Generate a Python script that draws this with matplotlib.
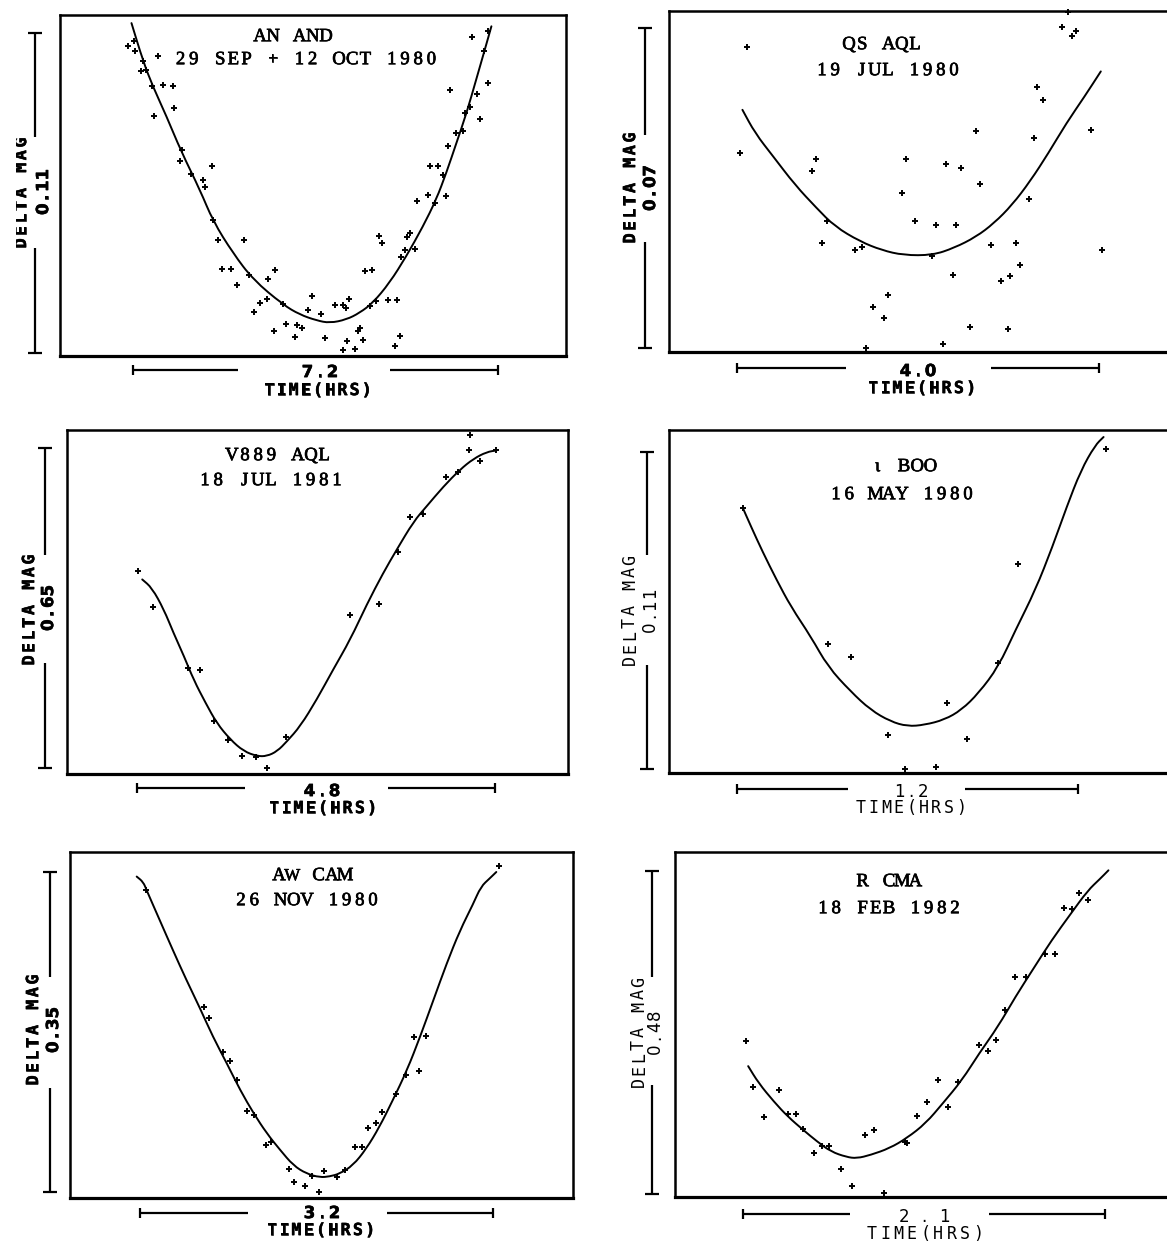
import matplotlib
matplotlib.use('Agg')
import matplotlib.pyplot as plt
import matplotlib.patheffects as pe
from matplotlib.lines import Line2D
from matplotlib.path import Path
from matplotlib.patches import PathPatch, Rectangle

# ---------------- data (time in hours from start of scale bar, delta mag) ----------------
an_and_title = ["AN AND", "29 SEP + 12 OCT 1980"]
an_and_span_hrs = 7.2
an_and_span_mag = 0.11
an_and_curve_t = [-0.03, 0.20, 0.39, 0.66, 0.95, 1.32, 1.58, 1.97, 2.37, 2.96, 3.29, 3.62, 3.88,
                  4.21, 4.47, 4.73, 5.06, 5.39, 5.72, 5.98, 6.18, 6.38, 6.58, 6.77, 6.94, 7.07]
an_and_curve_mag = [0.1134, 0.1003, 0.0917, 0.0814, 0.0693, 0.0561, 0.0453, 0.0344, 0.0252, 0.0166,
                    0.0132, 0.0112, 0.0103, 0.0115, 0.0138, 0.0172, 0.0241, 0.0332, 0.0435, 0.0527,
                    0.0619, 0.0722, 0.0825, 0.0940, 0.1043, 0.1123]
an_and_obs_t = [-0.10, 0.02, 0.03, 0.20, 0.16, 0.25, 0.49, 0.38, 0.41, 0.59, 0.78, 0.80, 0.97, 0.92,
                1.14, 1.39, 1.43, 1.56, 1.58, 1.68, 2.19, 1.76, 1.94, 2.06, 2.29, 2.66, 2.80, 2.50,
                2.65, 2.39, 2.96, 2.78, 3.02, 3.19, 3.24, 3.33, 3.54, 3.45, 3.70, 3.78, 3.98, 4.14,
                4.26, 4.21, 4.23, 4.14, 4.37, 4.44, 4.54, 4.48, 4.57, 4.72, 4.67, 4.80, 4.85, 4.92,
                5.03, 5.21, 5.16, 5.26, 5.28, 5.36, 5.40, 5.47, 5.56, 5.60, 5.82, 5.85, 6.02, 5.95,
                6.18, 6.11, 6.21, 6.38, 6.51, 6.54, 6.64, 6.79, 6.84, 7.00, 6.26, 6.69, 6.92, 7.00]
an_and_obs_mag = [0.1056, 0.1071, 0.1037, 0.1003, 0.0968, 0.0972, 0.1022, 0.0917, 0.0816, 0.0922,
                  0.0917, 0.0842, 0.0697, 0.0661, 0.0616, 0.0594, 0.0569, 0.0644, 0.0456, 0.0387,
                  0.0390, 0.0289, 0.0289, 0.0233, 0.0269, 0.0254, 0.0286, 0.0172, 0.0186, 0.0141,
                  0.0170, 0.0074, 0.0101, 0.0054, 0.0097, 0.0086, 0.0195, 0.0149, 0.0135, 0.0052,
                  0.0164, 0.0166, 0.0187, 0.0155, 0.0040, 0.0009, 0.0014, 0.0077, 0.0046, 0.0086,
                  0.0281, 0.0286, 0.0160, 0.0178, 0.0403, 0.0378, 0.0183, 0.0183, 0.0023, 0.0060,
                  0.0330, 0.0355, 0.0399, 0.0413, 0.0358, 0.0524, 0.0544, 0.0644, 0.0644, 0.0516,
                  0.0539, 0.0613, 0.0710, 0.0756, 0.0762, 0.0825, 0.0846, 0.0891, 0.0806, 0.0928,
                  0.0905, 0.1086, 0.1037, 0.1106]

qs_aql_title = ["QS AQL", "19 JUL 1980"]
qs_aql_span_hrs = 4.0
qs_aql_span_mag = 0.07
qs_aql_curve_t = [0.06, 0.20, 0.40, 0.64, 0.88, 1.08, 1.36, 1.60, 1.84, 2.16, 2.40, 2.64, 2.84,
                  3.04, 3.24, 3.44, 3.64, 3.84, 4.02]
qs_aql_curve_mag = [0.0521, 0.0470, 0.0419, 0.0357, 0.0306, 0.0266, 0.0233, 0.0214, 0.0203, 0.0203,
                    0.0219, 0.0243, 0.0273, 0.0313, 0.0365, 0.0426, 0.0492, 0.0550, 0.0605]
qs_aql_obs_t = [0.11, 0.03, 0.87, 0.83, 0.99, 0.94, 1.30, 1.38, 1.50, 1.62, 1.67, 1.43, 1.82, 1.87,
                1.97, 2.20, 2.16, 2.31, 2.48, 2.42, 2.39, 2.64, 2.68, 2.57, 2.28, 2.81, 2.92, 3.02,
                3.08, 3.13, 2.99, 3.23, 3.28, 3.32, 3.38, 3.91, 4.03, 3.59, 3.70, 3.75, 3.66]
qs_aql_obs_mag = [0.0658, 0.0426, 0.0414, 0.0387, 0.0277, 0.0230, 0.0215, 0.0222, 0.0090, 0.0066,
                  0.0117, 0.0000, 0.0340, 0.0413, 0.0277, 0.0270, 0.0202, 0.0402, 0.0394, 0.0269,
                  0.0159, 0.0475, 0.0359, 0.0046, 0.0009, 0.0225, 0.0147, 0.0158, 0.0229, 0.0182,
                  0.0042, 0.0327, 0.0459, 0.0572, 0.0542, 0.0477, 0.0214, 0.0702, 0.0682, 0.0693,
                  0.0734]

v889_title = ["V889 AQL", "18 JUL 1981"]
v889_span_hrs = 4.8
v889_span_mag = 0.65
v889_curve_t = [0.07, 0.20, 0.36, 0.49, 0.63, 0.76, 0.92, 1.07, 1.25, 1.43, 1.61, 1.74, 1.88, 2.01,
                2.19, 2.41, 2.63, 2.86, 3.08, 3.30, 3.48, 3.71, 3.88, 4.11, 4.33, 4.51, 4.69, 4.82]
v889_curve_mag = [0.383, 0.366, 0.322, 0.274, 0.227, 0.179, 0.132, 0.091, 0.058, 0.034, 0.024, 0.024,
                  0.034, 0.054, 0.085, 0.139, 0.200, 0.261, 0.332, 0.396, 0.443, 0.501, 0.531, 0.572,
                  0.606, 0.628, 0.642, 0.645]
v889_obs_t = [0.01, 0.21, 0.85, 0.69, 1.03, 1.22, 1.41, 1.59, 1.74, 2.00, 2.86, 3.25, 3.50, 3.66,
              3.83, 4.14, 4.30, 4.45, 4.60, 4.82, 4.46]
v889_obs_mag = [0.401, 0.328, 0.200, 0.203, 0.095, 0.056, 0.025, 0.022, 0.000, 0.063, 0.311, 0.333,
                0.438, 0.509, 0.516, 0.592, 0.601, 0.645, 0.623, 0.645, 0.677]

iota_boo_title = ["ι BOO", "16 MAY 1980"]
iota_boo_span_hrs = 1.2
iota_boo_span_mag = 0.11
iota_boo_curve_t = [0.02, 0.05, 0.09, 0.14, 0.19, 0.26, 0.32, 0.40, 0.47, 0.54, 0.60, 0.66, 0.73,
                    0.79, 0.85, 0.92, 0.98, 1.05, 1.11, 1.16, 1.21, 1.26, 1.29]
iota_boo_curve_mag = [0.0907, 0.0840, 0.0754, 0.0655, 0.0563, 0.0459, 0.0355, 0.0269, 0.0205, 0.0165,
                      0.0148, 0.0153, 0.0171, 0.0205, 0.0263, 0.0355, 0.0482, 0.0621, 0.0771, 0.0909,
                      0.1036, 0.1123, 0.1152]
iota_boo_obs_t = [0.02, 0.32, 0.40, 0.53, 0.59, 0.70, 0.74, 0.81, 0.92, 0.99, 1.30]
iota_boo_obs_mag = [0.0907, 0.0434, 0.0388, 0.0117, 0.0000, 0.0007, 0.0228, 0.0105, 0.0367, 0.0711,
                    0.1111]

aw_cam_title = ["AW CAM", "26 NOV 1980"]
aw_cam_span_hrs = 3.2
aw_cam_span_mag = 0.35
aw_cam_curve_t = [-0.03, 0.03, 0.06, 0.18, 0.30, 0.42, 0.54, 0.66, 0.79, 0.91, 1.03, 1.15, 1.27,
                  1.39, 1.51, 1.63, 1.72, 1.81, 1.93, 2.05, 2.17, 2.29, 2.42, 2.54, 2.66, 2.78,
                  2.90, 3.02, 3.09, 3.17, 3.23]
aw_cam_curve_mag = [0.345, 0.339, 0.330, 0.297, 0.264, 0.232, 0.202, 0.170, 0.140, 0.111, 0.086,
                    0.064, 0.046, 0.029, 0.020, 0.016, 0.017, 0.020, 0.029, 0.047, 0.071, 0.100,
                    0.133, 0.170, 0.210, 0.250, 0.286, 0.315, 0.334, 0.343, 0.350]
aw_cam_obs_t = [0.05, 0.58, 0.63, 0.75, 0.82, 0.88, 0.97, 1.03, 1.14, 1.19, 1.35, 1.40, 1.50, 1.56,
                1.62, 1.67, 1.79, 1.86, 1.95, 2.01, 2.07, 2.14, 2.19, 2.32, 2.41, 2.48, 2.53, 2.59,
                3.25]
aw_cam_obs_mag = [0.330, 0.202, 0.190, 0.153, 0.143, 0.122, 0.089, 0.084, 0.051, 0.055, 0.025, 0.011,
                  0.007, 0.017, 0.000, 0.023, 0.016, 0.024, 0.049, 0.049, 0.070, 0.076, 0.088, 0.107,
                  0.128, 0.170, 0.132, 0.171, 0.357]

r_cma_title = ["R CMA", "18 FEB 1982"]
r_cma_span_hrs = 2.1
r_cma_span_mag = 0.48
r_cma_curve_t = [0.03, 0.09, 0.18, 0.26, 0.35, 0.43, 0.51, 0.60, 0.66, 0.74, 0.85, 0.95, 1.06, 1.16,
                 1.27, 1.37, 1.48, 1.58, 1.69, 1.79, 1.90, 2.00, 2.07, 2.12]
r_cma_curve_mag = [0.190, 0.165, 0.137, 0.115, 0.095, 0.078, 0.063, 0.055, 0.053, 0.058, 0.068, 0.083,
                   0.105, 0.135, 0.169, 0.209, 0.249, 0.293, 0.337, 0.377, 0.416, 0.451, 0.468, 0.481]
r_cma_obs_t = [0.02, 0.06, 0.12, 0.21, 0.26, 0.31, 0.35, 0.41, 0.46, 0.50, 0.57, 0.63, 0.71, 0.76,
               0.82, 0.94, 0.95, 1.01, 1.07, 1.13, 1.19, 1.25, 1.37, 1.42, 1.47, 1.52, 1.58, 1.64,
               1.75, 1.81, 1.86, 1.91, 1.95, 2.00]
r_cma_obs_mag = [0.227, 0.159, 0.114, 0.154, 0.119, 0.119, 0.096, 0.061, 0.071, 0.072, 0.037, 0.012,
                 0.088, 0.095, 0.001, 0.078, 0.076, 0.116, 0.137, 0.169, 0.129, 0.167, 0.221, 0.213,
                 0.229, 0.274, 0.323, 0.323, 0.357, 0.356, 0.425, 0.424, 0.448, 0.437]

y_label = "DELTA MAG"
x_label = "TIME(HRS)"

# ---------------- layout (pixels, origin top-left) ----------------
W, H = 1167, 1243
fig = plt.figure(figsize=(W / 100, H / 100), dpi=100)
fig.patch.set_facecolor('white')


def fx(x):
    return x / W


def fy(y):
    return 1 - y / H


def seg(xs, ys, lw=1.6):
    fig.add_artist(Line2D([fx(x) for x in xs], [fy(y) for y in ys], color='black',
                          lw=lw, solid_capstyle='butt'))


def spaced(x, y, s, pitch, rot=False, narrow='', **kw):
    """Typewriter-like text: each character on a fixed pitch (pixels).
    Horizontal: (x, y) = centre x, baseline y.  Rotated: (x, y) = baseline x, centre y."""
    n = len(s)
    base = kw.pop('size')
    for i, ch in enumerate(s):
        if ch == ' ':
            continue
        off = (i - (n - 1) / 2) * pitch
        sz = base * 0.9 if ch in narrow else base
        if rot:
            fig.text(fx(x), fy(y - off), ch, rotation=90, rotation_mode='anchor',
                     ha='center', va='baseline', size=sz, **kw)
        else:
            fig.text(fx(x + off), fy(y), ch, ha='center', va='baseline', size=sz, **kw)


def smooth_curve(ax, xs, ys, lw):
    pts = list(zip(xs, ys))
    verts = [pts[0], ((pts[0][0] + pts[1][0]) / 2, (pts[0][1] + pts[1][1]) / 2)]
    codes = [Path.MOVETO, Path.LINETO]
    for i in range(1, len(pts) - 1):
        mid = ((pts[i][0] + pts[i + 1][0]) / 2, (pts[i][1] + pts[i + 1][1]) / 2)
        verts += [pts[i], mid]
        codes += [Path.CURVE3, Path.CURVE3]
    verts.append(pts[-1])
    codes.append(Path.LINETO)
    ax.add_patch(PathPatch(Path(verts, codes), facecolor='none', edgecolor='black', lw=lw,
                           joinstyle='round', capstyle='round'))


panels = [
    dict(title=an_and_title, T=an_and_span_hrs, M=an_and_span_mag,
         ct=an_and_curve_t, cm=an_and_curve_mag, ot=an_and_obs_t, om=an_and_obs_mag,
         box=(60, 15, 566, 356), hbar=(133, 498, 370, 238, 390), vbar=(35, 33, 353, 137, 248),
         dl=(20, 193), vl=(42, 192), tv=(320, 371), tl=(318, 389), t1=(293, 35), t2=(306, 58),
         bold=True, npitch=12.5, lpitch=12.2),
    dict(title=qs_aql_title, T=qs_aql_span_hrs, M=qs_aql_span_mag,
         ct=qs_aql_curve_t, cm=qs_aql_curve_mag, ot=qs_aql_obs_t, om=qs_aql_obs_mag,
         box=(669, 11, 1200, 352), hbar=(737, 1099, 368, 846, 991), vbar=(645, 28, 348, 135, 242),
         dl=(629, 188), vl=(649, 188), tv=(918, 370), tl=(922, 387), t1=(882, 43), t2=(888, 69),
         bold=True, npitch=12.5, lpitch=12.3),
    dict(title=v889_title, T=v889_span_hrs, M=v889_span_mag,
         ct=v889_curve_t, cm=v889_curve_mag, ot=v889_obs_t, om=v889_obs_mag,
         box=(67, 430, 568, 774), hbar=(137, 495, 788, 245, 388), vbar=(45, 448, 768, 555, 663),
         dl=(28, 610), vl=(47, 608), tv=(322, 790), tl=(323, 807), t1=(278, 454), t2=(271, 479),
         bold=True, npitch=12.5, lpitch=12.3),
    dict(title=iota_boo_title, T=iota_boo_span_hrs, M=iota_boo_span_mag,
         ct=iota_boo_curve_t, cm=iota_boo_curve_mag, ot=iota_boo_obs_t, om=iota_boo_obs_mag,
         box=(669, 430, 1200, 773), hbar=(737, 1078, 789, 848, 965), vbar=(647, 452, 769, 555, 665),
         dl=(629, 610), vl=(649, 610), tv=(911, 791), tl=(911, 807), t1=(904, 465), t2=(902, 493),
         bold=False, npitch=12.0, lpitch=12.5),
    dict(title=aw_cam_title, T=aw_cam_span_hrs, M=aw_cam_span_mag,
         ct=aw_cam_curve_t, cm=aw_cam_curve_mag, ot=aw_cam_obs_t, om=aw_cam_obs_mag,
         box=(70, 852, 573, 1198), hbar=(140, 493, 1213, 248, 387), vbar=(50, 872, 1192, 977, 1088),
         dl=(32, 1030), vl=(52, 1030), tv=(322, 1212), tl=(321, 1229), t1=(312, 874), t2=(307, 899),
         bold=True, npitch=12.5, lpitch=12.3),
    dict(title=r_cma_title, T=r_cma_span_hrs, M=r_cma_span_mag,
         ct=r_cma_curve_t, cm=r_cma_curve_mag, ot=r_cma_obs_t, om=r_cma_obs_mag,
         box=(675, 852, 1200, 1197), hbar=(743, 1105, 1214, 850, 989), vbar=(652, 871, 1194, 977, 1085),
         dl=(638, 1032), vl=(654, 1032), tv=(924, 1216), tl=(925, 1233), t1=(889, 880), t2=(889, 907),
         bold=False, npitch=20.0, lpitch=13.3),
]

TITLE_PT = 13.5
TITLE_CAP = 0.66 * TITLE_PT * 100 / 72
LAB_PT = 12
LAB_CAP = 0.73 * LAB_PT * 100 / 72
ink = [pe.withStroke(linewidth=0.5, foreground='black')]
bold_ink = [pe.withStroke(linewidth=0.4, foreground='black')]

for p in panels:
    l, t, r, b = p['box']
    ax = fig.add_axes([fx(l), fy(b), (r - l) / W, (b - t) / H])
    hx0, hx1, hy, g0, g1 = p['hbar']
    vx, vy0, vy1, vg0, vg1 = p['vbar']
    pph = (hx1 - hx0) / p['T']
    ppm = (vy1 - vy0) / p['M']
    ax.set_xlim((l - hx0) / pph, (r - hx0) / pph)
    ax.set_ylim((vy1 - b) / ppm, (vy1 - t) / ppm)
    smooth_curve(ax, p['ct'], p['cm'], 1.4)
    ax.plot(p['ot'], p['om'], ls='none', marker='+', ms=5, mew=1.4, color='black', clip_on=False)
    ax.set_xticks([])
    ax.set_yticks([])
    for side, s in ax.spines.items():
        s.set_linewidth(2.3 if side == 'bottom' else 1.8)

    # horizontal time scale bar
    seg([hx0, g0], [hy, hy])
    seg([g1, hx1], [hy, hy])
    seg([hx0, hx0], [hy - 5, hy + 5])
    seg([hx1, hx1], [hy - 5, hy + 5])
    # vertical magnitude scale bar
    seg([vx, vx], [vy0, vg0])
    seg([vx, vx], [vg1, vy1])
    seg([vx - 7, vx + 7], [vy0, vy0])
    seg([vx - 7, vx + 7], [vy1, vy1])

    if p['bold']:
        lab = dict(weight='bold', color='black', path_effects=bold_ink)
    else:
        lab = dict(weight='normal', color='black')
    spaced(p['dl'][0] + LAB_CAP / 2, p['dl'][1], y_label, 12.6, rot=True, size=LAB_PT,
           family='DejaVu Sans Mono', **lab)
    spaced(p['vl'][0] + LAB_CAP / 2, p['vl'][1], f"{p['M']:.2f}", 11.5, rot=True, size=LAB_PT,
           family='DejaVu Sans', **lab)
    spaced(p['tv'][0], p['tv'][1] + LAB_CAP / 2, f"{p['T']:.1f}", p['npitch'], size=LAB_PT,
           family='DejaVu Sans', **lab)
    spaced(p['tl'][0], p['tl'][1] + LAB_CAP / 2, x_label, p['lpitch'], size=LAB_PT,
           family='DejaVu Sans Mono', **lab)

    tf = dict(family='Liberation Serif', color='black', path_effects=ink)
    spaced(p['t1'][0], p['t1'][1] + TITLE_CAP / 2, p['title'][0], 13.2, narrow='W',
           size=TITLE_PT, **tf)
    spaced(p['t2'][0], p['t2'][1] + TITLE_CAP / 2, p['title'][1], 13.2, narrow='W',
           size=TITLE_PT, **tf)

# the scan cuts off the left part of the first panel's axis label
fig.add_artist(Rectangle((0, fy(270)), fx(16), (270 - 120) / H, transform=fig.transFigure,
                         facecolor='white', edgecolor='none', zorder=10))

fig.savefig('out.png', dpi=100, facecolor='white')
